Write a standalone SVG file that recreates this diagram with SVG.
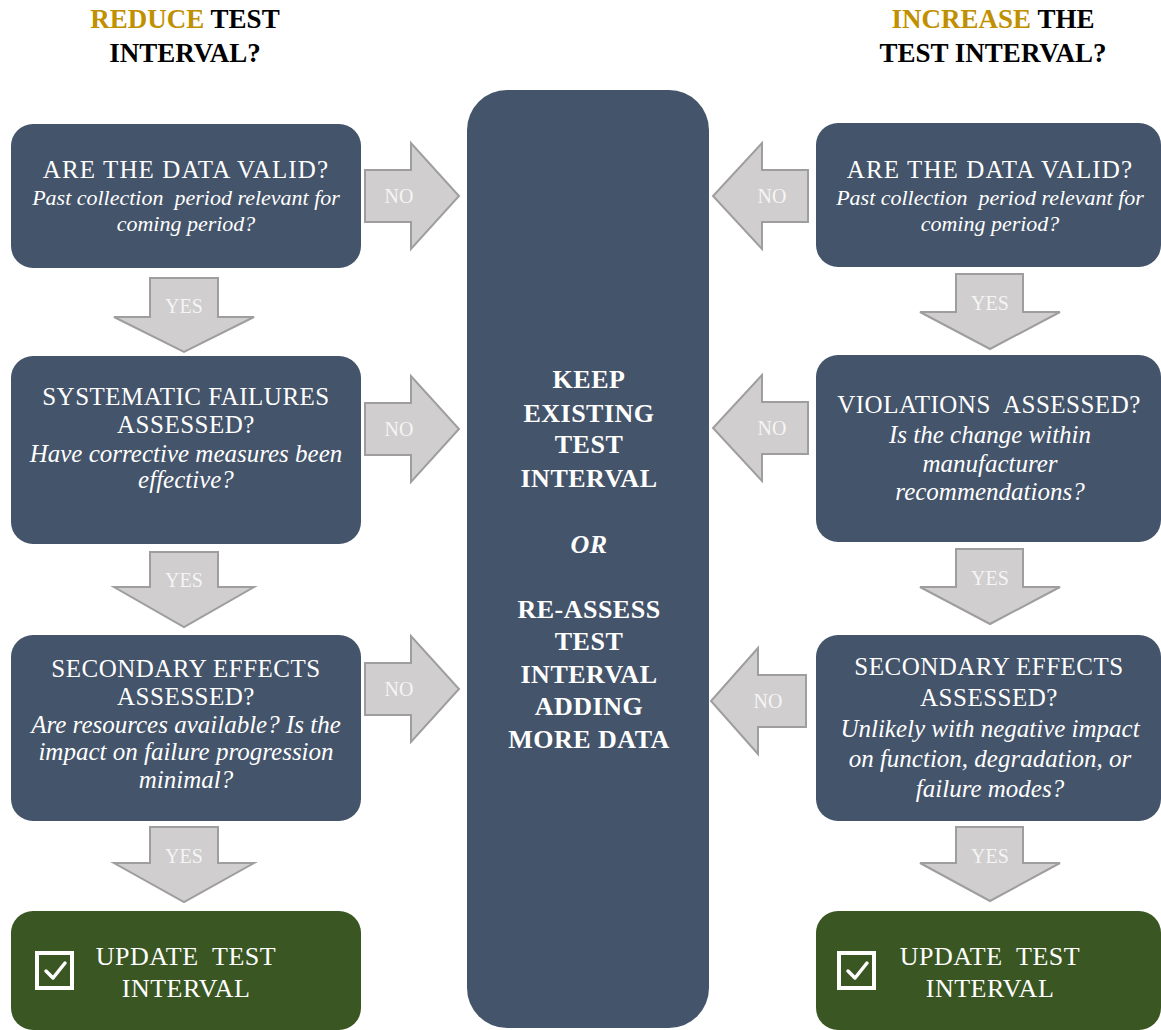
<svg xmlns="http://www.w3.org/2000/svg" width="1161" height="1030" viewBox="0 0 1161 1030">
<style>
  .box { fill: #44546A; }
  .ok { fill: #3A5723; }
  .arr { fill: #D0CECE; stroke: #9E9E9E; stroke-width: 2; stroke-linejoin: miter; }
  .lbl { font-family: "Liberation Serif", "Times New Roman", serif; font-size: 20px; fill: #F5F5F5; text-anchor: middle; }
  .t { font-family: "Liberation Serif", "Times New Roman", serif; font-size: 25px; fill: #FFFFFF; text-anchor: middle; letter-spacing: 0.5px; white-space: pre; }
  .t1 { font-size: 25px; letter-spacing: 1.1px; }
  .tg { font-size: 26px; }
  .i { font-family: "Liberation Serif", "Times New Roman", serif; font-size: 25px; font-style: italic; fill: #FFFFFF; text-anchor: middle; white-space: pre; }
  .i1 { font-size: 22px; }
  .c { font-family: "Liberation Serif", "Times New Roman", serif; font-size: 26px; font-weight: bold; fill: #FFFFFF; text-anchor: middle; letter-spacing: 0.5px; }
  .h { font-family: "Liberation Serif", "Times New Roman", serif; font-size: 27px; font-weight: bold; fill: #000000; text-anchor: middle; }
  .gold { fill: #BF9000; }
  .chk { fill: none; stroke: #FFFFFF; stroke-width: 4; }
  .tick { fill: none; stroke: #FFFFFF; stroke-width: 3.5; stroke-linecap: round; stroke-linejoin: round; }
</style>

<g id="header-left">
  <text class="h" x="185" y="28"><tspan class="gold">REDUCE</tspan> TEST</text>
  <text class="h" x="185" y="62">INTERVAL?</text>
</g>
<g id="header-right">
  <text class="h" x="993" y="28"><tspan class="gold">INCREASE</tspan> THE</text>
  <text class="h" x="993" y="62">TEST INTERVAL?</text>
</g>

<g id="center">
  <rect class="box" x="467" y="90" width="242" height="938" rx="40" ry="40"/>
  <text class="c" x="589" y="388">KEEP</text>
  <text class="c" x="589" y="422">EXISTING</text>
  <text class="c" x="589" y="453">TEST</text>
  <text class="c" x="589" y="487">INTERVAL</text>
  <text class="c" x="589" y="553" font-style="italic">OR</text>
  <text class="c" x="589" y="618">RE-ASSESS</text>
  <text class="c" x="589" y="650">TEST</text>
  <text class="c" x="589" y="683">INTERVAL</text>
  <text class="c" x="589" y="715">ADDING</text>
  <text class="c" x="589" y="748">MORE DATA</text>
</g>

<g id="left-1">
  <rect class="box" x="11" y="124" width="350" height="144" rx="22" ry="22"/>
  <text class="t t1" x="186" y="178">ARE THE DATA VALID?</text>
  <text class="i i1" x="186" y="205" xml:space="preserve">Past collection  period relevant for</text>
  <text class="i i1" x="186" y="231">coming period?</text>
</g>
<g id="left-2">
  <rect class="box" x="11" y="356" width="350" height="188" rx="22" ry="22"/>
  <text class="t" x="186" y="405">SYSTEMATIC FAILURES</text>
  <text class="t" x="186" y="433">ASSESSED?</text>
  <text class="i" x="186" y="462">Have corrective measures been</text>
  <text class="i" x="186" y="488">effective?</text>
</g>
<g id="left-3">
  <rect class="box" x="11" y="635" width="350" height="186" rx="22" ry="22"/>
  <text class="t" x="186" y="677">SECONDARY EFFECTS</text>
  <text class="t" x="186" y="705">ASSESSED?</text>
  <text class="i" x="186" y="733">Are resources available? Is the</text>
  <text class="i" x="186" y="760">impact on failure progression</text>
  <text class="i" x="186" y="788">minimal?</text>
</g>
<g id="left-update">
  <rect class="ok" x="11" y="911" width="350" height="119" rx="22" ry="22"/>
  <rect class="chk" x="37" y="953" width="35" height="35"/>
  <polyline class="tick" points="46,971 53,978 65,963"/>
  <text class="t tg" x="186" y="965" xml:space="preserve">UPDATE  TEST</text>
  <text class="t tg" x="186" y="997">INTERVAL</text>
</g>

<g id="right-1">
  <rect class="box" x="816" y="123" width="345" height="144" rx="22" ry="22"/>
  <text class="t t1" x="990" y="178">ARE THE DATA VALID?</text>
  <text class="i i1" x="990" y="205" xml:space="preserve">Past collection  period relevant for</text>
  <text class="i i1" x="990" y="231">coming period?</text>
</g>
<g id="right-2">
  <rect class="box" x="816" y="355" width="345" height="187" rx="22" ry="22"/>
  <text class="t" x="989" y="413" xml:space="preserve">VIOLATIONS  ASSESSED?</text>
  <text class="i" x="990" y="443">Is the change within</text>
  <text class="i" x="990" y="472">manufacturer</text>
  <text class="i" x="990" y="500">recommendations?</text>
</g>
<g id="right-3">
  <rect class="box" x="816" y="635" width="345" height="186" rx="22" ry="22"/>
  <text class="t" x="989" y="675">SECONDARY EFFECTS</text>
  <text class="t" x="989" y="706">ASSESSED?</text>
  <text class="i" x="990" y="737">Unlikely with negative impact</text>
  <text class="i" x="990" y="767">on function, degradation, or</text>
  <text class="i" x="990" y="797">failure modes?</text>
</g>
<g id="right-update">
  <rect class="ok" x="816" y="911" width="345" height="119" rx="22" ry="22"/>
  <rect class="chk" x="839" y="953" width="35" height="35"/>
  <polyline class="tick" points="848,971 855,978 867,963"/>
  <text class="t tg" x="990" y="965" xml:space="preserve">UPDATE  TEST</text>
  <text class="t tg" x="990" y="997">INTERVAL</text>
</g>

<g id="connectors">
  <!-- left NO arrows -->
  <polygon class="arr" points="365,170 411,170 411,143 459,196 411,249 411,222 365,222"/>
  <text class="lbl" x="399" y="203">NO</text>
  <polygon class="arr" points="365,403 411,403 411,376 459,429 411,482 411,455 365,455"/>
  <text class="lbl" x="399" y="436">NO</text>
  <polygon class="arr" points="365,663 411,663 411,636 459,689 411,742 411,715 365,715"/>
  <text class="lbl" x="399" y="696">NO</text>
  <!-- right NO arrows -->
  <polygon class="arr" points="808,170 762,170 762,143 713,196 762,249 762,222 808,222"/>
  <text class="lbl" x="772" y="203">NO</text>
  <polygon class="arr" points="808,402 762,402 762,375 713,428 762,481 762,454 808,454"/>
  <text class="lbl" x="772" y="435">NO</text>
  <polygon class="arr" points="806,675 758,675 758,648 711,701 758,754 758,727 806,727"/>
  <text class="lbl" x="768" y="708">NO</text>
  <!-- left YES arrows -->
  <polygon class="arr" points="150,278 218,278 218,317 254,317 184,352 114,317 150,317"/>
  <text class="lbl" x="184" y="313">YES</text>
  <polygon class="arr" points="150,552 218,552 218,587 254,587 184,627 114,587 150,587"/>
  <text class="lbl" x="184" y="587">YES</text>
  <polygon class="arr" points="150,827 218,827 218,863 254,863 184,902 114,863 150,863"/>
  <text class="lbl" x="184" y="863">YES</text>
  <!-- right YES arrows -->
  <polygon class="arr" points="956,274 1023,274 1023,312 1060,312 990,349 920,312 956,312"/>
  <text class="lbl" x="990" y="310">YES</text>
  <polygon class="arr" points="956,549 1023,549 1023,587 1060,587 990,624 920,587 956,587"/>
  <text class="lbl" x="990" y="585">YES</text>
  <polygon class="arr" points="956,827 1023,827 1023,863 1060,863 990,901 920,863 956,863"/>
  <text class="lbl" x="990" y="863">YES</text>
</g>
</svg>
